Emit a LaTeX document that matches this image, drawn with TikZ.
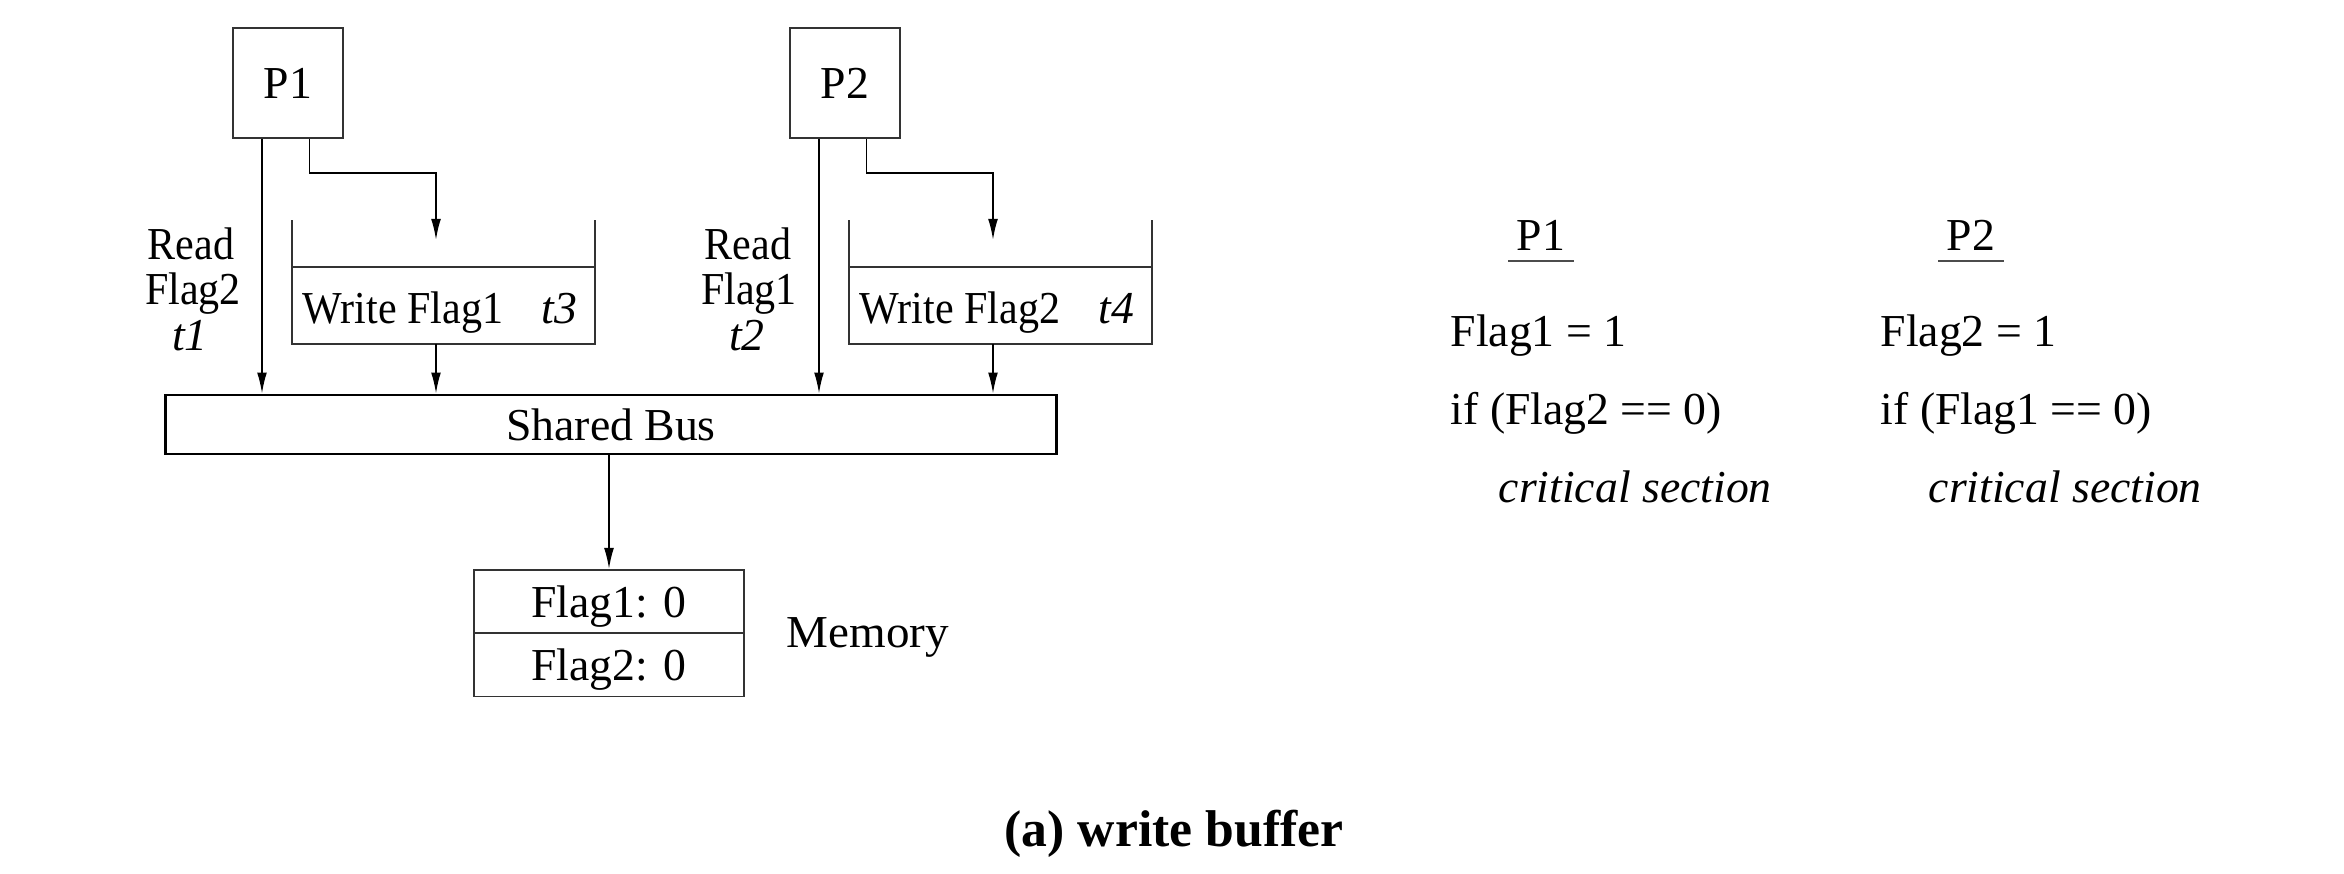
\documentclass[tikz,border=0pt]{standalone}
\usepackage{fontspec}
\setmainfont{Liberation Serif}
\usetikzlibrary{arrows.meta,calc}
\newcommand{\narrowtext}[1]{\scalebox{0.92}[1]{#1}}
\begin{document}
\begin{tikzpicture}[x=0.01cm,y=-0.01cm,
  every node/.style={font=\fontsize{13}{15.6}\selectfont, inner sep=0pt},
  boxline/.style={draw=black!80, line width=0.5pt},
  procbox/.style={boxline, minimum width=1.10cm, minimum height=1.10cm, text depth=0pt},
  cell/.style={boxline, minimum width=2.70cm, minimum height=0.63cm, text depth=0pt},
  arr/.style={-{Latex[length=6pt,width=2.8pt]}, line width=0.5pt, black},
  lbl/.style={anchor=base},
  txt/.style={anchor=base west}
]
\useasboundingbox (0,0) rectangle (2344,874);

% processors
\node[procbox] (P1) at (288,83) {P1};
\node[procbox] (P2) at (845,83) {P2};

% shared bus
\node[draw=black, line width=0.75pt, minimum width=8.90cm, minimum height=0.59cm, text depth=0pt] (bus) at (611,424.5) {Shared Bus};

% write buffers
\node[minimum width=3.01cm, minimum height=0.75cm] (buf1) at (443.5,305.5) {};
\node[minimum width=3.01cm, minimum height=0.75cm] (buf2) at (1000.5,305.5) {};
\draw[boxline] ([yshift=0.47cm]buf1.north west) -- (buf1.south west) -- (buf1.south east) -- ([yshift=0.47cm]buf1.north east);
\draw[boxline] (buf1.north west) -- (buf1.north east);
\draw[boxline] ([yshift=0.47cm]buf2.north west) -- (buf2.south west) -- (buf2.south east) -- ([yshift=0.47cm]buf2.north east);
\draw[boxline] (buf2.north west) -- (buf2.north east);
\node[txt] (wf1) at (302,324) {\narrowtext{Write Flag1}};
\node[txt] (t3) at (541,324) {\itshape t3};
\node[txt] (wf2) at (859,324) {\narrowtext{Write Flag2}};
\node[txt] (t4) at (1098,324) {\itshape t4};

% read labels
\node[lbl] (rd1a) at (191,260) {\narrowtext{Read}};
\node[lbl] (rd1b) at (193,305) {\narrowtext{Flag2}};
\node[lbl] (rd1c) at (190,351) {\itshape t1};
\node[lbl] (rd2a) at (748,260) {\narrowtext{Read}};
\node[lbl] (rd2b) at (749,305) {\narrowtext{Flag1}};
\node[lbl] (rd2c) at (747,351) {\itshape t2};

% memory
\node[cell] (m1) at (609,601.5) {Flag1: 0};
\node[cell] (m2) at (609,665) {Flag2: 0};
\node[txt] (mem) at (786,648) {\scalebox{1.03}[1]{Memory}};

% connector coordinates
\coordinate (r1) at (262,0);
\coordinate (r2) at (819,0);
\coordinate (w1) at (309.5,173);
\coordinate (w1e) at (436,240);
\coordinate (w2) at (866.5,173);
\coordinate (w2e) at (993,240);

% connectors P1
\draw[arr] (P1.south -| r1) -- (bus.north -| r1);
\draw[arr] (P1.south -| w1) |- (w1e |- w1) -- (w1e);
\draw[arr] (buf1.south -| w1e) -- (bus.north -| w1e);
% connectors P2
\draw[arr] (P2.south -| r2) -- (bus.north -| r2);
\draw[arr] (P2.south -| w2) |- (w2e |- w2) -- (w2e);
\draw[arr] (buf2.south -| w2e) -- (bus.north -| w2e);
% bus to memory
\draw[arr] (bus.south -| m1.north) -- (m1.north);

% right column: programs
\node[lbl, minimum width=0.64cm] (h1) at (1541,251) {P1};
\node[lbl, minimum width=0.64cm] (h2) at (1971,251) {P2};
\draw[black!70, line width=0.4pt] ([yshift=-0.1cm]h1.base west) -- ([yshift=-0.1cm]h1.base east);
\draw[black!70, line width=0.4pt] ([yshift=-0.1cm]h2.base west) -- ([yshift=-0.1cm]h2.base east);
\node[txt] (a1) at (1450,347) {Flag1 = 1};
\node[txt] (a2) at (1450,425) {if (Flag2 == 0)};
\node[txt] (a3) at (1498,503) {\itshape critical section};
\node[txt] (b1) at (1880,347) {Flag2 = 1};
\node[txt] (b2) at (1880,425) {if (Flag1 == 0)};
\node[txt] (b3) at (1928,503) {\itshape critical section};

% caption
\node[lbl, font=\fontsize{14.7}{17}\selectfont\bfseries] (cap) at (1174,847) {(a) write buffer};
\end{tikzpicture}
\end{document}
